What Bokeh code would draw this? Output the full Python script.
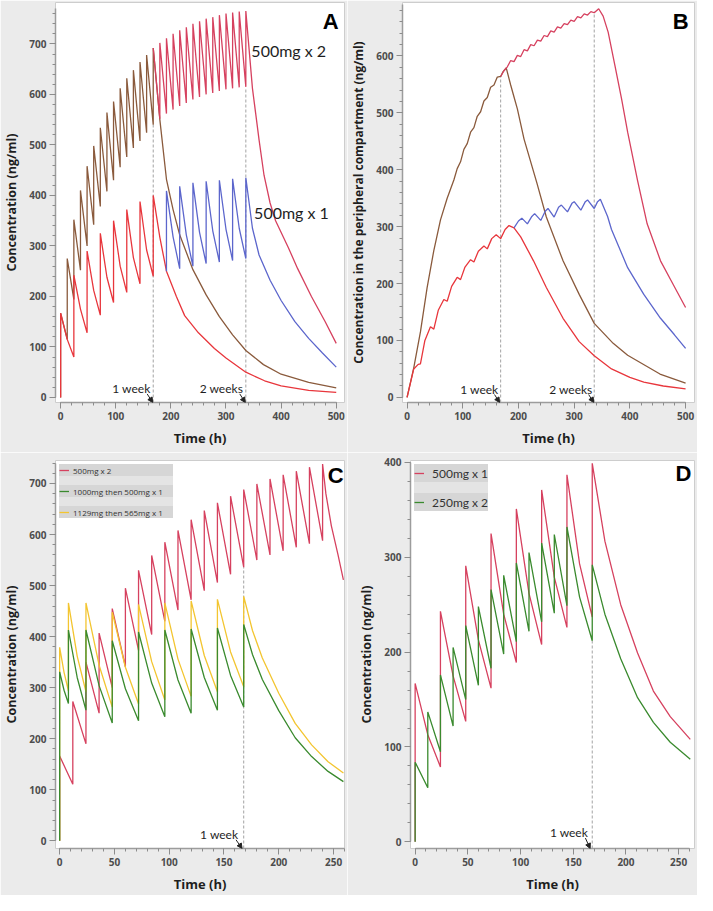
from bokeh.plotting import figure
from bokeh.layouts import column, row
from bokeh.models import (Range1d, SingleIntervalTicker, Label, Arrow, NormalHead,
                          Legend, LegendItem)
from bokeh.embed import file_html
from bokeh.resources import INLINE

# ----------------------------- DATA -----------------------------
# Panel A  (plasma concentration, ng/ml vs time, h)
A_red_dose = [0, 24, 48, 72, 96, 120, 144, 168]
A_red_trough = [0, 80, 128, 163, 188, 208, 225, 240]
A_red_peak = [167, 242, 290, 325, 350, 372, 388, 400]
A_red_mid_t = [12, 36, 60, 84, 108, 132, 156]
A_red_mid = [115, 175, 212, 238, 260, 277, 292]
A_red_tail_t = [180, 192, 210, 225, 250, 279, 300, 336, 370, 400, 450, 500]
A_red_tail = [317, 250, 200, 162, 128, 97, 78, 50, 33, 23, 14, 10]

A_brown_dose = [0, 12, 24, 36, 48, 60, 72, 84, 96, 108, 120, 132, 144, 156, 168]
A_brown_trough = [0, 115, 194, 252, 300, 342, 378, 408, 430, 456, 476, 494, 508, 524, 540]
A_brown_peak = [167, 275, 352, 410, 458, 498, 534, 564, 586, 612, 632, 648, 664, 678, 692]
A_brown_tail_t = [180, 192, 204, 216, 240, 264, 288, 312, 336, 368, 400, 450, 500]
A_brown_tail = [550, 432, 372, 322, 253, 203, 160, 124, 93, 65, 46, 30, 19]

A_crim_start = [(168, 692)]
A_crim_dose = [180, 192, 204, 216, 228, 240, 252, 264, 276, 288, 300, 312, 324, 336]
A_crim_trough = [552, 562, 570, 577, 583, 590, 595, 600, 603, 607, 610, 612, 614, 615]
A_crim_peak = [702, 711, 720, 727, 733, 740, 745, 750, 753, 757, 760, 762, 764, 765]
A_crim_tail_t = [348, 360, 369, 380, 390, 413, 430, 455, 480, 500]
A_crim_tail = [612, 510, 440, 385, 350, 297, 255, 200, 150, 107]

A_blue_dose = [192, 216, 240, 264, 288, 312, 336]
A_blue_trough = [250, 255, 260, 265, 268, 271, 275]
A_blue_peak = [409, 418, 425, 428, 430, 433, 435]
A_blue_mid_t = [204, 228, 252, 276, 300, 324]
A_blue_mid = [318, 322, 327, 330, 333, 335]
A_blue_tail_t = [348, 360, 380, 400, 425, 450, 475, 500]
A_blue_tail = [335, 282, 232, 192, 150, 117, 88, 60]

A_week_t = [168, 336]
A_week_top = [540, 612]

# Panel B  (peripheral compartment)
B_red_t = [0, 6, 12, 20, 24, 32, 42, 48, 56, 66, 72, 80, 90, 96, 104, 114, 120, 128, 138,
           144, 152, 160, 168, 176, 183, 192, 204, 227, 250, 280, 309, 336, 367, 400, 425,
           460, 500]
B_red_v = [0, 25, 50, 58, 59, 100, 124, 120, 153, 172, 169, 195, 211, 207, 229, 242, 238,
           257, 266, 261, 279, 286, 279, 295, 302, 298, 282, 240, 193, 139, 98, 73, 50, 35,
           27, 20, 15]
B_brown_t = [0, 12, 24, 36, 48, 60, 72, 84, 90, 96, 102, 108, 114, 120, 126, 132, 138, 144,
             150, 156, 162, 168, 172, 178, 186, 192, 198, 210, 233, 250, 280, 309, 336, 370,
             396, 454, 500]
B_brown_v = [0, 52, 115, 193, 258, 312, 350, 382, 402, 414, 436, 446, 466, 474, 494, 502,
             521, 527, 545, 549, 563, 564, 572, 579, 549, 528, 507, 454, 377, 317, 240, 181,
             130, 95, 74, 41, 25]
B_crim_t = [168, 174, 180, 186, 192, 198, 204, 210, 216, 222, 228, 234, 240, 246, 252, 258,
            264, 270, 276, 282, 288, 294, 300, 306, 312, 318, 324, 330, 336, 344, 352, 361,
            373, 385, 396, 414, 431, 455, 478, 500]
B_crim_v = [564, 574, 581, 592, 590, 601, 599, 611, 609, 620, 618, 628, 626, 636, 634, 644,
            642, 651, 649, 657, 655, 663, 661, 669, 667, 674, 672, 678, 676, 683, 670, 642,
            584, 525, 466, 380, 305, 240, 198, 158]
B_blue_t = [192, 200, 206, 216, 224, 229, 240, 248, 253, 264, 272, 277, 288, 296, 300, 312,
            320, 324, 336, 342, 347, 360, 367, 396, 425, 455, 480, 500]
B_blue_v = [298, 310, 315, 305, 318, 323, 311, 327, 332, 317, 334, 338, 326, 341, 344, 329,
            344, 347, 332, 344, 348, 318, 295, 228, 181, 139, 110, 86]
B_week_t = [168, 336]
B_week_top = [565, 678]

# Panel C
C_red_dose = [0, 12, 24, 36, 48, 60, 72, 84, 96, 108, 120, 132, 144, 156, 168, 180, 192,
              204, 216, 228, 240]
C_red_trough = [0, 111, 190, 250, 300, 341, 373, 404, 430, 452, 472, 490, 506, 522, 536,
                550, 560, 568, 575, 582, 588]
C_red_peak = [166, 273, 350, 407, 455, 495, 530, 559, 585, 608, 629, 647, 662, 675, 688,
              699, 709, 717, 724, 732, 738]
C_red_tail_t = [243, 248, 254, 259]
C_red_tail = [680, 617, 561, 511]

C_green_dose = [0, 8, 24, 48, 72, 96, 120, 144, 168]
C_green_trough = [0, 269, 256, 231, 235, 243, 250, 256, 262]
C_green_peak = [331, 413, 413, 392, 409, 413, 415, 417, 424]
C_green_mid_t = [4, 16, 36, 60, 84, 108, 132, 156]
C_green_mid = [295, 320, 304, 298, 309, 315, 320, 324]
C_green_tail_t = [176, 185, 200, 215, 230, 245, 259]
C_green_tail = [365, 316, 255, 202, 165, 136, 116]

C_yel_dose = [0, 8, 24, 48, 72, 96, 120, 144, 168]
C_yel_trough = [0, 294, 292, 262, 268, 276, 283, 292, 302]
C_yel_peak = [379, 466, 466, 448, 463, 466, 470, 473, 479]
C_yel_mid_t = [4, 16, 36, 60, 84, 108, 132, 156]
C_yel_mid = [330, 362, 344, 340, 351, 356, 363, 370]
C_yel_tail_t = [176, 185, 200, 215, 230, 245, 259]
C_yel_tail = [412, 358, 289, 230, 188, 155, 133]
C_week_t = [168]
C_week_top = [536]

# Panel D
D_red_dose = [0, 24, 48, 72, 96, 120, 144, 168]
D_red_trough = [0, 79, 127, 162, 189, 208, 226, 237]
D_red_peak = [167, 243, 291, 325, 351, 371, 387, 399]
D_red_mid_t = [12, 36, 60, 84, 108, 132, 156]
D_red_mid = [113, 175, 213, 240, 262, 279, 293]
D_red_tail_t = [180, 195, 211, 226, 242, 261]
D_red_tail = [317, 250, 199, 159, 132, 108]

D_green_dose = [0, 12, 24, 36, 48, 60, 72, 84, 96, 108, 120, 132, 144, 168]
D_green_trough = [0, 57, 95, 122, 150, 165, 183, 198, 211, 222, 232, 241, 249, 212]
D_green_peak = [84, 137, 176, 205, 228, 248, 266, 281, 294, 305, 315, 324, 332, 292]
D_green_mid_t = [156]
D_green_mid = [258]
D_green_tail_t = [180, 195, 211, 226, 242, 261]
D_green_tail = [240, 193, 152, 126, 105, 87]
D_week_t = [168]
D_week_top = [212]

# ----------------------------- STYLE -----------------------------
RED = "#e8363c"
CRIM = "#d6415f"
BROWN = "#8a5a3c"
BLUE = "#5c66cc"
GREEN = "#3a8a2e"
YELLOW = "#f3c530"
DASH = "#a3a3a3"
BG = "#ebebeb"
LW = 1.3


def series(dose, trough, peak, mid_t=(), mid=(), tail_t=(), tail=(), head=()):
    pts = list(head)
    for t, lo, hi in zip(dose, trough, peak):
        pts.append((t, lo))
        pts.append((t, hi))
    pts += list(zip(mid_t, mid))
    pts += list(zip(tail_t, tail))
    pts.sort(key=lambda q: q[0])
    return [q[0] for q in pts], [q[1] for q in pts]


def make_fig(w, h, xr, yr, bl, bb, bt, br, xint, yint, xb, yb, ylabel, ylsize="12.5px"):
    p = figure(width=w, height=h, x_range=Range1d(*xr), y_range=Range1d(*yr),
               output_backend="svg", toolbar_location=None,
               min_border_left=bl, min_border_bottom=bb, min_border_top=bt,
               min_border_right=br)
    p.background_fill_color = "white"
    p.border_fill_color = BG
    p.outline_line_color = "#cdcdcd"
    p.grid.visible = False
    p.xaxis.ticker = SingleIntervalTicker(interval=xint, num_minor_ticks=5)
    p.yaxis.ticker = SingleIntervalTicker(interval=yint, num_minor_ticks=5)
    for ax in (p.xaxis[0], p.yaxis[0]):
        ax.axis_line_color = "#9c9c9c"
        ax.axis_line_width = 1.5
        ax.major_tick_line_color = "#8c8c8c"
        ax.minor_tick_line_color = "#8c8c8c"
        ax.major_tick_out = 6
        ax.major_tick_in = 0
        ax.minor_tick_out = 3
        ax.minor_tick_in = 0
        ax.major_label_text_font = "Open Sans"
        ax.major_label_text_font_style = "bold"
        ax.major_label_text_font_size = "10px"
        ax.major_label_text_color = "#4d4d4d"
        ax.major_label_standoff = 3
        ax.axis_label_text_font = "Open Sans"
        ax.axis_label_text_font_style = "bold"
        ax.axis_label_text_color = "#1e1e1e"
        ax.axis_label_standoff = 6
    p.xaxis.bounds = xb
    p.yaxis.bounds = yb
    p.xaxis.axis_label = "Time (h)"
    p.xaxis.axis_label_text_font_size = "13px"
    p.yaxis.axis_label = ylabel
    p.yaxis.axis_label_text_font_size = ylsize
    return p


def week_marks(p, ts, tops, ybottom):
    p.segment(x0=ts, y0=[ybottom] * len(ts), x1=ts, y1=tops,
              line_color=DASH, line_dash="3 2", line_width=1)


def note(p, x, y, text, size="12px", align="right", font="Lato", bold=False):
    p.add_layout(Label(x=x, y=y, text=text, text_align=align, text_baseline="middle",
                       text_font=font, text_font_size=size, text_color="#1e1e1e",
                       text_font_style="bold" if bold else "normal"))


def arrow(p, x0, y0, x1, y1):
    p.add_layout(Arrow(end=NormalHead(size=5, fill_color="#222", line_color="#222"),
                       x_start=x0, y_start=y0, x_end=x1, y_end=y1,
                       line_color="#222", line_width=1))


def letter(p, x, y, text):
    p.add_layout(Label(x=x, y=y, text=text, text_align="center", text_baseline="middle",
                       text_font="Liberation Sans", text_font_style="bold",
                       text_font_size="22px", text_color="black"))


# ----------------------------- PANEL A -----------------------------
pA = make_fig(347, 452, (-9.3, 515), (-10, 782), 44, 50, 2, 3, 100, 100,
              (0, 500), (0, 770), "Concentration (ng/ml)")
week_marks(pA, A_week_t, A_week_top, -10)
tx, ty = series(A_brown_dose, A_brown_trough, A_brown_peak, tail_t=A_brown_tail_t, tail=A_brown_tail)
pA.line(tx, ty, line_color=BROWN, line_width=LW)
tx, ty = series(A_red_dose, A_red_trough, A_red_peak, A_red_mid_t, A_red_mid, A_red_tail_t, A_red_tail)
pA.line(tx, ty, line_color=RED, line_width=LW)
tx, ty = series(A_crim_dose, A_crim_trough, A_crim_peak, tail_t=A_crim_tail_t, tail=A_crim_tail,
                head=A_crim_start)
pA.line(tx, ty, line_color=CRIM, line_width=LW)
tx, ty = series(A_blue_dose, A_blue_trough, A_blue_peak, A_blue_mid_t, A_blue_mid, A_blue_tail_t, A_blue_tail)
pA.line(tx, ty, line_color=BLUE, line_width=LW)
note(pA, 346, 686, "500mg x 2", size="16px", align="left")
note(pA, 351, 366, "500mg x 1", size="16px", align="left")
note(pA, 163, 18, "1 week")
note(pA, 331, 18, "2 weeks")
arrow(pA, 157, 7, 167, -10)
arrow(pA, 325, 7, 335, -10)
letter(pA, 490, 745, "A")

# ----------------------------- PANEL B -----------------------------
pB = make_fig(350, 452, (-8.2, 516), (-9, 694), 52, 50, 2, 3, 100, 100,
              (0, 500), (0, 690), "Concentration in the peripheral compartment (ng/ml)",
              ylsize="12px")
week_marks(pB, B_week_t, B_week_top, -9)
pB.line(B_brown_t, B_brown_v, line_color=BROWN, line_width=LW)
pB.line(B_red_t, B_red_v, line_color=RED, line_width=LW)
pB.line(B_crim_t, B_crim_v, line_color=CRIM, line_width=LW)
pB.line(B_blue_t, B_blue_v, line_color=BLUE, line_width=LW)
note(pB, 164, 14, "1 week")
note(pB, 333, 14, "2 weeks")
arrow(pB, 157, 5, 166, -9)
arrow(pB, 326, 5, 335, -9)
letter(pB, 491, 660, "B")

# ----------------------------- PANEL C -----------------------------
pC = make_fig(347, 443, (-3.8, 260), (-15, 745), 52, 45, 3, 3, 50, 100,
              (0, 260), (0, 740), "Concentration (ng/ml)")
week_marks(pC, C_week_t, C_week_top, -15)
tx, ty = series(C_red_dose, C_red_trough, C_red_peak, tail_t=C_red_tail_t, tail=C_red_tail)
rC1 = pC.line(tx, ty, line_color=CRIM, line_width=LW)
tx, ty = series(C_yel_dose, C_yel_trough, C_yel_peak, C_yel_mid_t, C_yel_mid, C_yel_tail_t, C_yel_tail)
rC3 = pC.line(tx, ty, line_color=YELLOW, line_width=LW)
tx, ty = series(C_green_dose, C_green_trough, C_green_peak, C_green_mid_t, C_green_mid,
                C_green_tail_t, C_green_tail)
rC2 = pC.line(tx, ty, line_color=GREEN, line_width=LW)
note(pC, 163, 13, "1 week")
arrow(pC, 161, 2, 166.5, -15)
letter(pC, 252, 716, "C")
legC = Legend(items=[LegendItem(label="500mg x 2", renderers=[rC1]),
                     LegendItem(label="1000mg then 500mg x 1", renderers=[rC2]),
                     LegendItem(label="1129mg then 565mg x 1", renderers=[rC3])],
              location="top_left", background_fill_color="#e4e4e4", background_fill_alpha=1,
              border_line_color=None, label_text_font="Open Sans", label_text_font_size="8px",
              label_text_color="#333", glyph_width=10, glyph_height=12, label_height=12,
              label_width=100, spacing=9, padding=3, margin=4, label_standoff=4,
              item_background_policy="every", item_background_fill_color="#d2d2d2")
pC.add_layout(legC)

# ----------------------------- PANEL D -----------------------------
pD = make_fig(350, 443, (-4.4, 265), (-7, 402), 63, 45, 8, 3, 50, 100,
              (0, 260), (0, 400), "Concentration (ng/ml)")
week_marks(pD, D_week_t, D_week_top, -7)
tx, ty = series(D_red_dose, D_red_trough, D_red_peak, D_red_mid_t, D_red_mid, D_red_tail_t, D_red_tail)
rD1 = pD.line(tx, ty, line_color=CRIM, line_width=LW)
tx, ty = series(D_green_dose, D_green_trough, D_green_peak, D_green_mid_t, D_green_mid,
                D_green_tail_t, D_green_tail)
rD2 = pD.line(tx, ty, line_color=GREEN, line_width=LW)
note(pD, 164, 10, "1 week")
arrow(pD, 161.5, 4, 166, -7)
letter(pD, 254.5, 388, "D")
legD = Legend(items=[LegendItem(label="500mg x 1", renderers=[rD1]),
                     LegendItem(label="250mg x 2", renderers=[rD2])],
              location="top_left", background_fill_color="#e4e4e4", background_fill_alpha=1,
              border_line_color=None, label_text_font="Lato", label_text_font_size="12px",
              label_text_color="#333", glyph_width=10, glyph_height=18, label_height=18,
              spacing=11, padding=3, margin=4, label_standoff=8,
              item_background_policy="every", item_background_fill_color="#d2d2d2")
pD.add_layout(legD)

layout = column(row(pA, pB), row(pC, pD))
open("out.html", "w").write(file_html(layout, INLINE))
